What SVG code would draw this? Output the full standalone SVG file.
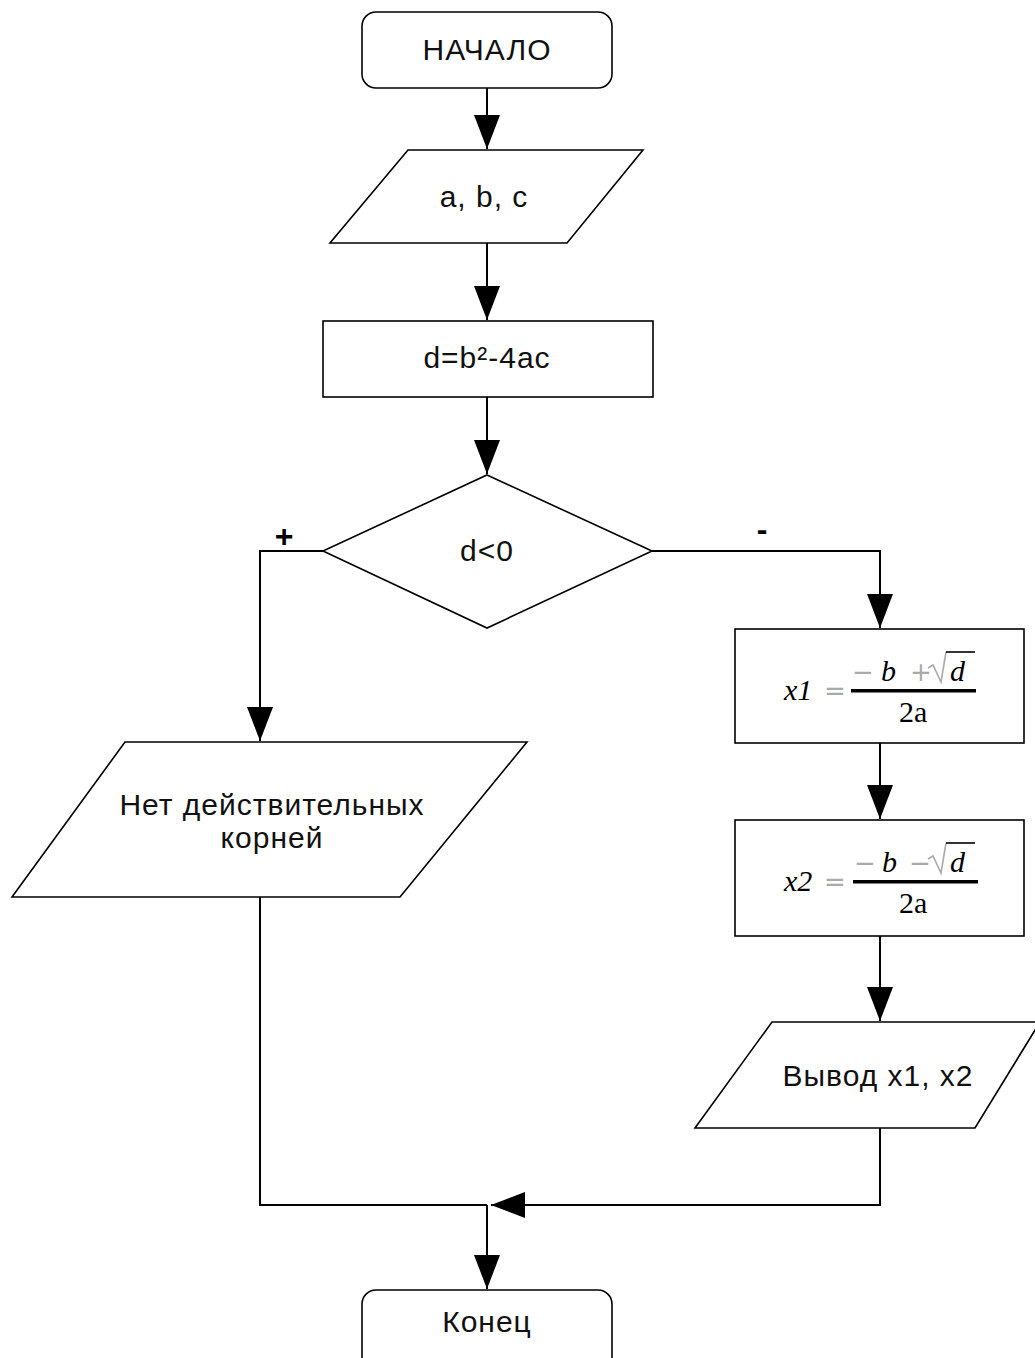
<svg xmlns="http://www.w3.org/2000/svg" width="1035" height="1358" viewBox="0 0 1035 1358">
<style>
.shape{fill:#fff;stroke:#000;stroke-width:1.6}
.conn{fill:none;stroke:#000;stroke-width:2}
.t{font-family:"Liberation Sans",Arial,sans-serif;font-size:30px;fill:#111;text-anchor:middle;letter-spacing:1px}
.sym{font-family:"Liberation Sans",Arial,sans-serif;font-size:32px;font-weight:bold;fill:#000;text-anchor:middle}
.m{font-family:"Liberation Serif","Times New Roman",serif;font-size:30px;fill:#000}
.op{font-family:"DejaVu Sans","Liberation Sans",sans-serif;font-size:26px;fill:#aaa}
.mi{font-style:italic}
</style>
<defs>
<marker id="arr" viewBox="0 0 34 26" refX="34" refY="13" markerWidth="34" markerHeight="26" markerUnits="userSpaceOnUse" orient="auto">
<path d="M0,0 L34,13 L0,26 z" fill="#000"/>
</marker>
</defs>
<g id="connectors">
<path class="conn" d="M487,88 L487,149" marker-end="url(#arr)"/>
<path class="conn" d="M487,243 L487,320" marker-end="url(#arr)"/>
<path class="conn" d="M487,397 L487,474" marker-end="url(#arr)"/>
<path class="conn" d="M323,551 L260,551 L260,741" marker-end="url(#arr)"/>
<path class="conn" d="M652,551 L880,551 L880,628" marker-end="url(#arr)"/>
<path class="conn" d="M880,743 L880,819" marker-end="url(#arr)"/>
<path class="conn" d="M880,936 L880,1021" marker-end="url(#arr)"/>
<path class="conn" d="M260,897 L260,1205 L487,1205"/>
<path class="conn" d="M880,1128 L880,1205 L491,1205" marker-end="url(#arr)"/>
<path class="conn" d="M487,1205 L487,1289" marker-end="url(#arr)"/>
<text class="sym" x="284" y="547">+</text>
<text class="sym" x="762" y="540">-</text>
</g>
<g id="start">
<rect class="shape" x="362" y="12" width="250" height="76" rx="14"/>
<text class="t" x="487" y="60">НАЧАЛО</text>
</g>
<g id="input">
<polygon class="shape" points="408,150 643,150 567,243 330,243"/>
<text class="t" x="484" y="207">a, b, c</text>
</g>
<g id="calc">
<rect class="shape" x="323" y="321" width="330" height="76"/>
<text class="t" x="487" y="368">d=b²-4ac</text>
</g>
<g id="decision">
<polygon class="shape" points="487,475 652,551 487,628 323,551"/>
<text class="t" x="487" y="561">d&lt;0</text>
</g>
<g id="noroots">
<polygon class="shape" points="125,742 527,742 400,897 12,897"/>
<text class="t" x="272" y="815">Нет действительных</text>
<text class="t" x="272" y="848">корней</text>
</g>
<g id="x1">
<rect class="shape" x="735" y="629" width="289" height="114"/>
<text class="m mi" x="784" y="700">x1</text>
<text class="op" x="824" y="700">=</text>
<rect x="851" y="689" width="125" height="3.5" fill="#000"/>
<text class="op" x="852" y="681">−</text>
<text class="m mi" x="881" y="681">b</text>
<text class="op" x="910" y="681">+</text>
<path d="M928,668 L933,665 L941,682 L946,652" fill="none" stroke="#aaa" stroke-width="1.6"/>
<path d="M946,652 L975,652" fill="none" stroke="#000" stroke-width="1.6"/>
<text class="m mi" x="950" y="681">d</text>
<text class="m" x="899" y="722">2a</text>
</g>
<g id="x2">
<rect class="shape" x="735" y="820" width="289" height="116"/>
<text class="m mi" x="784" y="891">x2</text>
<text class="op" x="824" y="891">=</text>
<rect x="853" y="880" width="125" height="3.5" fill="#000"/>
<text class="op" x="854" y="872">−</text>
<text class="m mi" x="882" y="872">b</text>
<text class="op" x="909" y="872">−</text>
<path d="M928,859 L933,856 L941,873 L946,843" fill="none" stroke="#aaa" stroke-width="1.6"/>
<path d="M946,843 L975,843" fill="none" stroke="#000" stroke-width="1.6"/>
<text class="m mi" x="950" y="872">d</text>
<text class="m" x="899" y="913">2a</text>
</g>
<g id="output">
<polygon class="shape" points="772,1022 1040,1022 975,1128 695,1128"/>
<text class="t" x="878" y="1086">Вывод x1, x2</text>
</g>
<g id="end">
<rect class="shape" x="362" y="1290" width="250" height="90" rx="14"/>
<text class="t" x="487" y="1332">Конец</text>
</g>
</svg>
